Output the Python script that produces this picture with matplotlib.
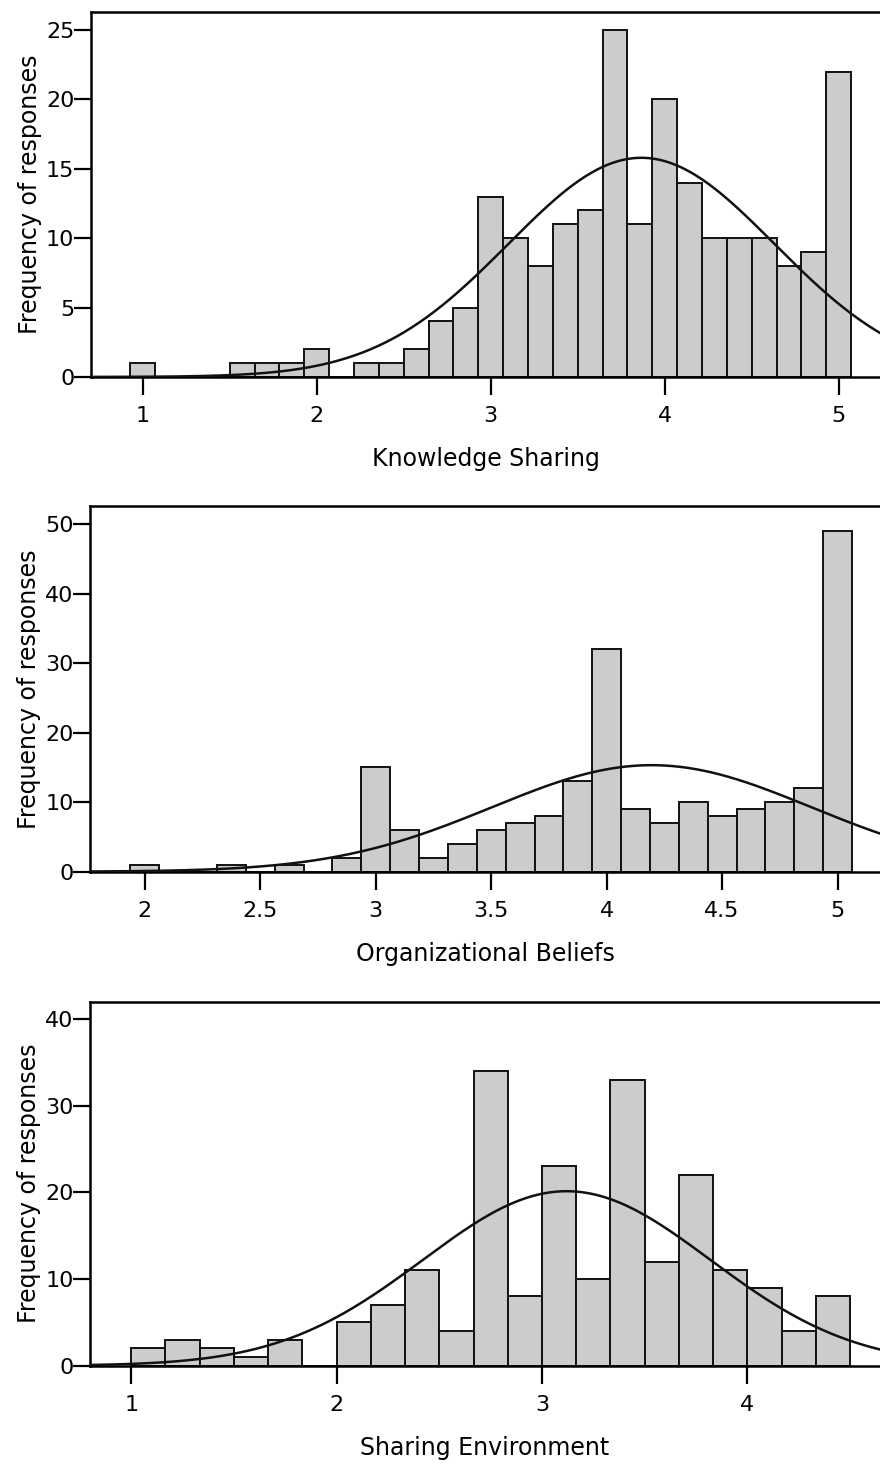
import numpy as np
import matplotlib.pyplot as plt

# === Data ===
ks_start = 1.0            # centre of first bin
ks_width = 1 / 7
ks_counts = [1, 0, 0, 0, 1, 1, 1, 2, 0, 1, 1, 2, 4, 5, 13, 10, 8, 11, 12, 25,
             11, 20, 14, 10, 10, 10, 8, 9, 22]
ks_mean, ks_sd = 3.866, 0.765

ob_start = 2.0
ob_width = 1 / 8
ob_counts = [1, 0, 0, 1, 0, 1, 0, 2, 15, 6, 2, 4, 6, 7, 8, 13, 32, 9, 7, 10,
             8, 9, 10, 12, 49]
ob_mean, ob_sd = 4.195, 0.69

se_start = 1.0 + 1 / 12   # centre of first bin (bins start at 1.0)
se_width = 1 / 6
se_counts = [2, 3, 2, 1, 3, 0, 5, 7, 11, 4, 34, 8, 23, 10, 33, 12, 22, 11, 9,
             4, 8]
se_mean, se_sd = 3.12, 0.70

panels = [
    ("Knowledge Sharing", ks_start, ks_width, ks_counts, ks_mean, ks_sd,
     (0.703, 5.237), 26.3, [1, 2, 3, 4, 5], ["1", "2", "3", "4", "5"],
     [0, 5, 10, 15, 20, 25]),
    ("Organizational Beliefs", ob_start, ob_width, ob_counts, ob_mean, ob_sd,
     (1.763, 5.184), 52.6, [2, 2.5, 3, 3.5, 4, 4.5, 5],
     ["2", "2.5", "3", "3.5", "4", "4.5", "5"], [0, 10, 20, 30, 40, 50]),
    ("Sharing Environment", se_start, se_width, se_counts, se_mean, se_sd,
     (0.80, 4.646), 42.0, [1, 2, 3, 4], ["1", "2", "3", "4"],
     [0, 10, 20, 30, 40]),
]

# axes boxes in figure fractions (left, bottom, width, height)
boxes = [
    (0.1034, 0.7427, 0.8966, 0.2491),
    (0.1025, 0.4050, 0.8975, 0.2496),
    (0.1025, 0.0678, 0.8975, 0.2484),
]

plt.rcParams['font.family'] = ['DejaVu Sans']
fig = plt.figure(figsize=(8.8, 14.65), dpi=100)

for (label, start, width, counts, mu, sd, xlim, ytop, xt, xtl, yt), box in zip(panels, boxes):
    ax = fig.add_axes(box)
    counts = np.array(counts)
    centers = start + width * np.arange(len(counts))
    ax.bar(centers, counts, width=width, color="#cccccc", edgecolor="#111111",
           linewidth=1.4, zorder=2)

    # fitted normal curve
    n = counts.sum()
    xs = np.linspace(xlim[0], xlim[1], 400)
    ys = n * width * np.exp(-0.5 * ((xs - mu) / sd) ** 2) / (sd * np.sqrt(2 * np.pi))
    ax.plot(xs, ys, color="#111111", linewidth=1.8, zorder=3)

    ax.set_xlim(*xlim)
    ax.set_ylim(0, ytop)
    ax.set_xticks(xt)
    ax.set_xticklabels(xtl)
    ax.set_yticks(yt)
    ax.tick_params(axis="x", length=13, width=1.6, pad=8, labelsize=16,
                   direction="out")
    ax.tick_params(axis="y", length=12, width=1.6, pad=0, labelsize=16,
                   direction="out")
    for side in ["left", "top", "bottom"]:
        ax.spines[side].set_linewidth(1.8)
    ax.spines["right"].set_visible(False)
    ax.set_xlabel(label, fontsize=17, labelpad=15)
    ax.set_ylabel("Frequency of responses", fontsize=17, labelpad=3)

fig.savefig("out.png", dpi=100)
